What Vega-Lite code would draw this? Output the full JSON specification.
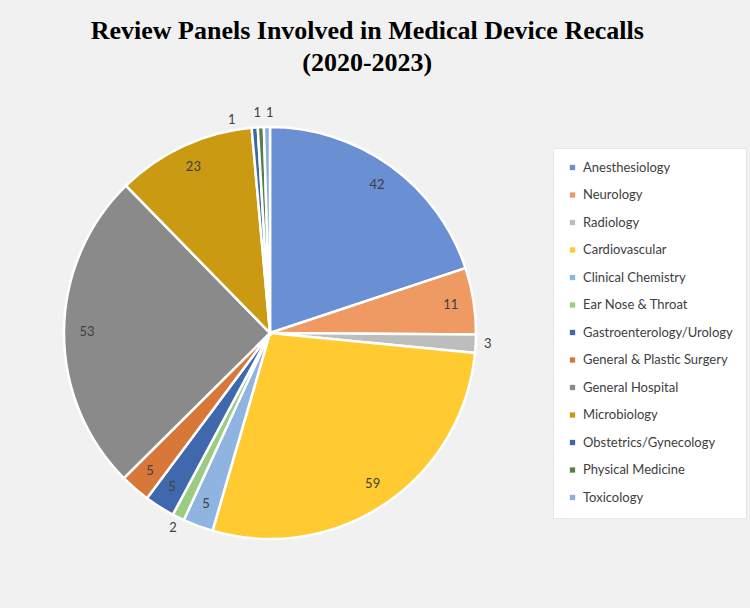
{
  "$schema": "https://vega.github.io/schema/vega-lite/v6.json",
  "width": 540,
  "height": 466,
  "autosize": {"type": "none"},
  "padding": {"top": 100, "left": 0, "right": 210, "bottom": 42},
  "background": "#f1f1f1",
  "title": {
    "text": ["Review Panels Involved in Medical Device Recalls", "(2020-2023)"],
    "font": "Liberation Serif",
    "fontSize": 26,
    "fontWeight": "bold",
    "color": "#000000",
    "lineHeight": 32,
    "anchor": "middle",
    "frame": "bounds",
    "offset": 24,
    "dx": -6
  },
  "config": {"view": {"stroke": null}},
  "data": {
    "values": [
      {"idx": 1, "panel": "Anesthesiology", "count": 42},
      {"idx": 2, "panel": "Neurology", "count": 11},
      {"idx": 3, "panel": "Radiology", "count": 3},
      {"idx": 4, "panel": "Cardiovascular", "count": 59},
      {"idx": 5, "panel": "Clinical Chemistry", "count": 5},
      {"idx": 6, "panel": "Ear Nose & Throat", "count": 2},
      {"idx": 7, "panel": "Gastroenterology/Urology", "count": 5},
      {"idx": 8, "panel": "General & Plastic Surgery", "count": 5},
      {"idx": 9, "panel": "General Hospital", "count": 53},
      {"idx": 10, "panel": "Microbiology", "count": 23},
      {"idx": 11, "panel": "Obstetrics/Gynecology", "count": 1},
      {"idx": 12, "panel": "Physical Medicine", "count": 1},
      {"idx": 13, "panel": "Toxicology", "count": 1}
    ]
  },
  "encoding": {
    "theta": {"field": "count", "type": "quantitative", "stack": true},
    "order": {"field": "idx", "type": "quantitative"}
  },
  "layer": [
    {
      "mark": {"type": "arc", "outerRadius": 206, "stroke": "#ffffff", "strokeWidth": 2.5},
      "encoding": {
        "color": {
          "field": "panel",
          "type": "nominal",
          "sort": null,
          "scale": {
            "domain": ["Anesthesiology", "Neurology", "Radiology", "Cardiovascular", "Clinical Chemistry", "Ear Nose & Throat", "Gastroenterology/Urology", "General & Plastic Surgery", "General Hospital", "Microbiology", "Obstetrics/Gynecology", "Physical Medicine", "Toxicology"],
            "range": ["#6a8fd2", "#ef9a62", "#bdbdbd", "#ffcb30", "#8fb4e0", "#9ccc82", "#4068ad", "#d8773a", "#8a8a8a", "#c99a12", "#3b6aa3", "#5a7f45", "#8aaee0"]
          },
          "legend": {
            "title": null,
            "orient": "none",
            "legendX": 553,
            "legendY": 48,
            "padding": 13,
            "fillColor": "#ffffff",
            "strokeColor": "#e6e6e6",
            "symbolType": "square",
            "symbolSize": 28,
            "symbolStrokeWidth": 0,
            "labelFont": "Lato",
            "labelFontSize": 13,
            "labelColor": "#404040",
            "labelOffset": 4,
            "rowPadding": 13.5,
            "labelLimit": 300
          }
        }
      }
    },
    {
      "mark": {"type": "text", "radius": 183, "font": "Lato", "fontSize": 13, "color": "#404040"},
      "encoding": {"text": {"condition": {"test": "datum.count >= 5", "field": "count", "type": "quantitative"}, "value": ""}}
    },
    {
      "mark": {"type": "text", "radius": 218, "font": "Lato", "fontSize": 13, "color": "#404040"},
      "encoding": {"text": {"condition": {"test": "datum.count > 1 && datum.count < 5", "field": "count", "type": "quantitative"}, "value": ""}}
    },
    {
      "mark": {"type": "text", "radius": 218, "dx": -22, "dy": 4, "font": "Lato", "fontSize": 13, "color": "#404040"},
      "encoding": {"text": {"condition": {"test": "datum.panel == 'Obstetrics/Gynecology'", "field": "count", "type": "quantitative"}, "value": ""}}
    },
    {
      "mark": {"type": "text", "radius": 220, "dx": -3, "font": "Lato", "fontSize": 13, "color": "#404040"},
      "encoding": {"text": {"condition": {"test": "datum.panel == 'Physical Medicine'", "field": "count", "type": "quantitative"}, "value": ""}}
    },
    {
      "mark": {"type": "text", "radius": 220, "dx": 3, "font": "Lato", "fontSize": 13, "color": "#404040"},
      "encoding": {"text": {"condition": {"test": "datum.panel == 'Toxicology'", "field": "count", "type": "quantitative"}, "value": ""}}
    }
  ]
}
